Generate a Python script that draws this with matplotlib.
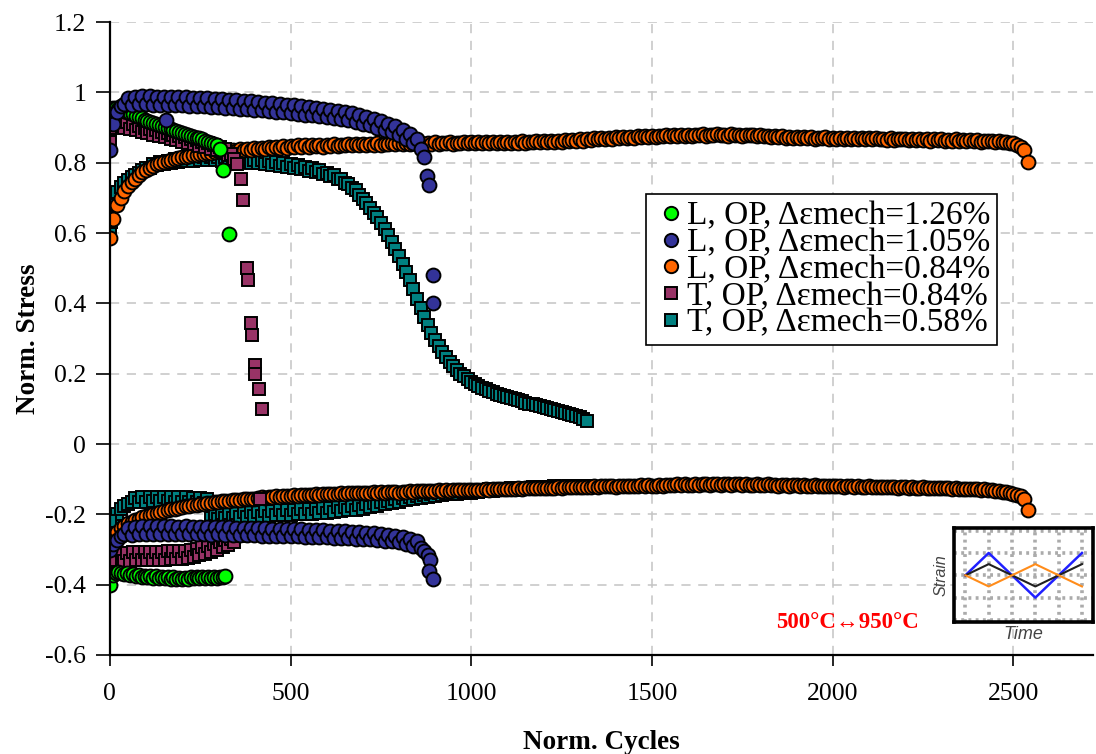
import numpy as np
import matplotlib
matplotlib.use("Agg")
import matplotlib.pyplot as plt
from matplotlib.lines import Line2D

plt.rcParams['font.family'] = ['Liberation Serif', 'DejaVu Serif']
plt.rcParams['axes.unicode_minus'] = False

# ---------------- data (normalised stress vs normalised cycles) ----------------
# regular recordings: first cycle, cycle step and the recorded values;
# isolated points are listed separately as (cycle, value) lists

# L, OP, 1.26 %
green_max_start, green_max_step = 0, 8
green_max = [0.95, 0.955, 0.956, 0.953, 0.95, 0.948, 0.945, 0.942, 0.938, 0.934,
             0.93, 0.926, 0.922, 0.918, 0.915, 0.912, 0.909, 0.906, 0.904, 0.901,
             0.898, 0.895, 0.892, 0.889, 0.886, 0.884, 0.881, 0.879, 0.876, 0.874,
             0.871, 0.869, 0.866, 0.863, 0.86, 0.857, 0.854, 0.85, 0.84]
green_max_extra_cyc = [312, 330]
green_max_extra = [0.778, 0.596]
green_min_start, green_min_step = 0, 8
green_min = [-0.40, -0.372, -0.366, -0.364, -0.368, -0.371, -0.368, -0.373, -0.37, -0.376,
             -0.372, -0.378, -0.374, -0.379, -0.375, -0.38, -0.376, -0.381, -0.377, -0.382,
             -0.378, -0.383, -0.379, -0.384, -0.38, -0.384, -0.38, -0.383, -0.379, -0.382,
             -0.378, -0.381, -0.377, -0.38, -0.378, -0.381, -0.378, -0.38, -0.377, -0.379,
             -0.376]

# L, OP, 1.05 %
blue_max_start, blue_max_step = 0, 10
blue_max = [0.835, 0.91, 0.945, 0.962, 0.968, 0.985, 0.965, 0.988, 0.966, 0.989,
            0.966, 0.989, 0.965, 0.988, 0.965, 0.988, 0.964, 0.987, 0.964, 0.987,
            0.963, 0.986, 0.962, 0.985, 0.961, 0.984, 0.96, 0.983, 0.959, 0.982,
            0.957, 0.98, 0.956, 0.979, 0.955, 0.978, 0.953, 0.976, 0.952, 0.975,
            0.95, 0.973, 0.949, 0.971, 0.947, 0.969, 0.945, 0.967, 0.943, 0.965,
            0.941, 0.963, 0.939, 0.961, 0.937, 0.958, 0.935, 0.956, 0.932, 0.953,
            0.929, 0.95, 0.926, 0.947, 0.923, 0.944, 0.92, 0.94, 0.916, 0.936,
            0.911, 0.931, 0.906, 0.925, 0.9, 0.918, 0.893, 0.911, 0.886, 0.903,
            0.878, 0.894, 0.868, 0.882, 0.855, 0.866, 0.838, 0.815]
blue_max_extra_cyc = [878, 883, 155, 895, 895]
blue_max_extra = [0.762, 0.737, 0.92, 0.48, 0.40]
blue_min_start, blue_min_step = 0, 10
blue_min = [-0.30, -0.285, -0.272, -0.262, -0.255, -0.24, -0.258, -0.235, -0.256, -0.234,
            -0.255, -0.233, -0.256, -0.234, -0.255, -0.233, -0.256, -0.234, -0.256, -0.235,
            -0.257, -0.234, -0.256, -0.235, -0.257, -0.235, -0.257, -0.236, -0.258, -0.236,
            -0.257, -0.237, -0.258, -0.237, -0.259, -0.238, -0.259, -0.238, -0.26, -0.239,
            -0.26, -0.239, -0.261, -0.24, -0.261, -0.241, -0.262, -0.241, -0.262, -0.242,
            -0.263, -0.242, -0.263, -0.243, -0.264, -0.244, -0.264, -0.244, -0.265, -0.245,
            -0.265, -0.246, -0.266, -0.247, -0.267, -0.248, -0.268, -0.249, -0.269, -0.25,
            -0.27, -0.252, -0.271, -0.254, -0.273, -0.256, -0.275, -0.258, -0.277, -0.261,
            -0.28, -0.265, -0.284, -0.27, -0.289, -0.277, -0.296, -0.305]
blue_min_extra_cyc = [880, 886, 884, 893]
blue_min_extra = [-0.315, -0.33, -0.36, -0.385]

# L, OP, 0.84 %
orange_max_start, orange_max_step = 0, 10
orange_max = [0.585, 0.64, 0.68, 0.70, 0.72, 0.733, 0.745, 0.755, 0.765, 0.773,
              0.78, 0.785, 0.79, 0.795, 0.80, 0.803, 0.805, 0.808, 0.81, 0.812,
              0.815, 0.817, 0.82, 0.821, 0.823, 0.825, 0.826, 0.827, 0.828, 0.83,
              0.832, 0.829, 0.834, 0.831, 0.836, 0.833, 0.838, 0.835, 0.839, 0.836,
              0.841, 0.838, 0.843, 0.839, 0.845, 0.841, 0.846, 0.842, 0.847, 0.843,
              0.848, 0.844, 0.849, 0.845, 0.85, 0.846, 0.849, 0.847, 0.85, 0.846,
              0.851, 0.847, 0.852, 0.848, 0.851, 0.849, 0.853, 0.849, 0.852, 0.85,
              0.854, 0.85, 0.853, 0.851, 0.855, 0.851, 0.854, 0.852, 0.856, 0.852,
              0.855, 0.853, 0.856, 0.852, 0.857, 0.853, 0.856, 0.854, 0.857, 0.853,
              0.858, 0.854, 0.857, 0.855, 0.858, 0.854, 0.857, 0.855, 0.859, 0.855,
              0.858, 0.856, 0.859, 0.855, 0.858, 0.856, 0.86, 0.856, 0.859, 0.857,
              0.86, 0.856, 0.859, 0.857, 0.861, 0.857, 0.86, 0.858, 0.861, 0.858,
              0.862, 0.858, 0.861, 0.859, 0.863, 0.86, 0.864, 0.861, 0.865, 0.862,
              0.866, 0.863, 0.868, 0.864, 0.869, 0.866, 0.87, 0.867, 0.871, 0.868,
              0.872, 0.869, 0.873, 0.87, 0.874, 0.871, 0.875, 0.872, 0.876, 0.873,
              0.877, 0.874, 0.877, 0.875, 0.878, 0.875, 0.879, 0.876, 0.879, 0.877,
              0.88, 0.877, 0.879, 0.878, 0.881, 0.877, 0.88, 0.878, 0.881, 0.878,
              0.88, 0.877, 0.881, 0.878, 0.88, 0.877, 0.879, 0.878, 0.88, 0.876,
              0.879, 0.875, 0.877, 0.873, 0.876, 0.872, 0.875, 0.871, 0.874, 0.87,
              0.873, 0.87, 0.874, 0.869, 0.872, 0.868, 0.871, 0.869, 0.872, 0.868,
              0.871, 0.867, 0.87, 0.868, 0.871, 0.867, 0.87, 0.866, 0.869, 0.867,
              0.87, 0.866, 0.869, 0.866, 0.868, 0.865, 0.869, 0.865, 0.868, 0.866,
              0.868, 0.864, 0.867, 0.865, 0.868, 0.864, 0.866, 0.863, 0.867, 0.864,
              0.866, 0.862, 0.865, 0.863, 0.866, 0.862, 0.864, 0.861, 0.864, 0.862,
              0.864, 0.86, 0.863, 0.861, 0.862, 0.859, 0.861, 0.858, 0.86, 0.856,
              0.855, 0.851, 0.845, 0.835, 0.802]
orange_min_start, orange_min_step = 0, 10
orange_min = [-0.275, -0.262, -0.25, -0.24, -0.232, -0.226, -0.221, -0.216, -0.212, -0.208,
              -0.205, -0.201, -0.198, -0.195, -0.193, -0.191, -0.189, -0.186, -0.184, -0.182,
              -0.18, -0.177, -0.176, -0.174, -0.173, -0.171, -0.17, -0.168, -0.167, -0.166,
              -0.165, -0.163, -0.162, -0.161, -0.16, -0.158, -0.158, -0.157, -0.157, -0.156,
              -0.155, -0.154, -0.152, -0.153, -0.15, -0.151, -0.149, -0.15, -0.147, -0.148,
              -0.147, -0.146, -0.148, -0.145, -0.146, -0.144, -0.145, -0.143, -0.144, -0.142,
              -0.142, -0.143, -0.141, -0.142, -0.14, -0.141, -0.139, -0.14, -0.138, -0.139,
              -0.14, -0.138, -0.139, -0.137, -0.138, -0.136, -0.138, -0.137, -0.136, -0.137,
              -0.138, -0.136, -0.137, -0.135, -0.136, -0.134, -0.135, -0.133, -0.134, -0.133,
              -0.134, -0.132, -0.133, -0.131, -0.133, -0.132, -0.131, -0.132, -0.13, -0.131,
              -0.131, -0.13, -0.132, -0.13, -0.129, -0.13, -0.128, -0.129, -0.128, -0.127,
              -0.128, -0.127, -0.128, -0.126, -0.127, -0.125, -0.126, -0.125, -0.126, -0.124,
              -0.126, -0.125, -0.124, -0.125, -0.123, -0.124, -0.122, -0.123, -0.122, -0.121,
              -0.123, -0.122, -0.121, -0.122, -0.12, -0.121, -0.12, -0.119, -0.12, -0.119,
              -0.121, -0.12, -0.119, -0.12, -0.118, -0.119, -0.118, -0.117, -0.118, -0.117,
              -0.119, -0.118, -0.117, -0.118, -0.116, -0.117, -0.116, -0.115, -0.116, -0.115,
              -0.117, -0.116, -0.115, -0.116, -0.114, -0.115, -0.116, -0.114, -0.115, -0.116,
              -0.115, -0.114, -0.116, -0.115, -0.114, -0.116, -0.115, -0.117, -0.116, -0.115,
              -0.117, -0.116, -0.115, -0.117, -0.116, -0.118, -0.117, -0.116, -0.118, -0.117,
              -0.116, -0.118, -0.117, -0.119, -0.118, -0.117, -0.119, -0.118, -0.12, -0.119,
              -0.118, -0.12, -0.119, -0.121, -0.12, -0.119, -0.121, -0.12, -0.122, -0.121,
              -0.12, -0.122, -0.121, -0.123, -0.122, -0.121, -0.123, -0.122, -0.124, -0.123,
              -0.122, -0.124, -0.123, -0.125, -0.124, -0.123, -0.125, -0.124, -0.126, -0.125,
              -0.124, -0.126, -0.125, -0.127, -0.126, -0.127, -0.128, -0.127, -0.129, -0.128,
              -0.129, -0.13, -0.129, -0.131, -0.132, -0.133, -0.134, -0.136, -0.137, -0.139,
              -0.141, -0.144, -0.148, -0.155, -0.187]

# T, OP, 0.84 %
purple_max_start, purple_max_step = 0, 8
purple_max = [0.88, 0.915, 0.925, 0.905, 0.92, 0.90, 0.915, 0.895, 0.91, 0.892,
              0.905, 0.888, 0.90, 0.884, 0.896, 0.88, 0.892, 0.876, 0.888, 0.872,
              0.884, 0.868, 0.88, 0.864, 0.876, 0.86, 0.872, 0.856, 0.868, 0.852,
              0.864, 0.848, 0.86, 0.844, 0.855, 0.84, 0.85, 0.835, 0.845, 0.83,
              0.838, 0.822, 0.825, 0.81, 0.795]
purple_max_extra_cyc = [0, 0, 0, 362, 368, 380, 381, 391, 392, 402, 403, 413, 421]
purple_max_extra = [0.86, 0.90, 0.93, 0.755, 0.695, 0.50, 0.466, 0.344, 0.31, 0.224, 0.20, 0.157, 0.10]
purple_min_start, purple_min_step = 0, 8
purple_min = [-0.365, -0.33, -0.312, -0.335, -0.31, -0.333, -0.309, -0.332, -0.308, -0.331,
              -0.308, -0.331, -0.307, -0.33, -0.307, -0.33, -0.306, -0.329, -0.306, -0.329,
              -0.305, -0.328, -0.305, -0.327, -0.304, -0.326, -0.303, -0.324, -0.301, -0.321,
              -0.298, -0.317, -0.294, -0.312, -0.289, -0.306, -0.284, -0.3, -0.279, -0.294,
              -0.274, -0.288, -0.27, -0.28]
purple_min_extra_cyc = [0, 0, 362, 416]
purple_min_extra = [-0.33, -0.30, -0.262, -0.155]

# T, OP, 0.58 %
teal_max_start, teal_max_step = 0, 10
teal_max = [0.61, 0.70, 0.718, 0.73, 0.742, 0.75, 0.76, 0.766, 0.772, 0.778,
            0.786, 0.785, 0.795, 0.792, 0.802, 0.797, 0.806, 0.80, 0.81, 0.803,
            0.813, 0.805, 0.815, 0.806, 0.816, 0.807, 0.817, 0.807, 0.817, 0.807,
            0.816, 0.806, 0.815, 0.805, 0.814, 0.804, 0.813, 0.802, 0.811, 0.80,
            0.809, 0.798, 0.807, 0.796, 0.805, 0.794, 0.802, 0.791, 0.799, 0.788,
            0.796, 0.785, 0.792, 0.781, 0.788, 0.777, 0.784, 0.773, 0.779, 0.768,
            0.772, 0.762, 0.764, 0.754, 0.754, 0.743, 0.74, 0.728, 0.722, 0.708,
            0.698, 0.684, 0.672, 0.658, 0.645, 0.628, 0.612, 0.595, 0.575, 0.555,
            0.535, 0.513, 0.49, 0.465, 0.44, 0.413, 0.387, 0.362, 0.338, 0.316,
            0.296, 0.278, 0.262, 0.247, 0.233, 0.222, 0.21, 0.20, 0.192, 0.184,
            0.177, 0.17, 0.165, 0.16, 0.155, 0.151, 0.147, 0.143, 0.14, 0.136,
            0.133, 0.13, 0.127, 0.124, 0.121, 0.118, 0.115, 0.113, 0.11, 0.108,
            0.105, 0.103, 0.10, 0.097, 0.094, 0.092, 0.089, 0.086, 0.083, 0.08,
            0.076, 0.071, 0.066]
teal_max_extra_cyc = [0, 3, 6]
teal_max_extra = [0.60, 0.63, 0.68]
teal_min_start, teal_min_step = 0, 10
teal_min = [-0.24, -0.215, -0.198, -0.185, -0.176, -0.17, -0.165, -0.153, -0.165, -0.152,
            -0.164, -0.151, -0.163, -0.151, -0.163, -0.151, -0.163, -0.151, -0.164, -0.152,
            -0.164, -0.152, -0.165, -0.153, -0.166, -0.154, -0.167, -0.156, -0.21, -0.198,
            -0.212, -0.197, -0.21, -0.196, -0.209, -0.195, -0.208, -0.194, -0.207, -0.193,
            -0.206, -0.192, -0.205, -0.191, -0.204, -0.19, -0.203, -0.189, -0.202, -0.188,
            -0.201, -0.187, -0.20, -0.186, -0.199, -0.185, -0.198, -0.184, -0.197, -0.183,
            -0.195, -0.182, -0.193, -0.18, -0.191, -0.178, -0.189, -0.176, -0.187, -0.174,
            -0.184, -0.171, -0.18, -0.168, -0.176, -0.164, -0.172, -0.161, -0.168, -0.157,
            -0.164, -0.154, -0.16, -0.151, -0.157, -0.148, -0.153, -0.145, -0.15, -0.143,
            -0.147, -0.14, -0.145, -0.138, -0.143, -0.136, -0.141, -0.135, -0.139, -0.133,
            -0.138, -0.132, -0.136, -0.131, -0.135, -0.129, -0.133, -0.128, -0.132, -0.127,
            -0.131, -0.126, -0.13, -0.125, -0.129, -0.124, -0.128, -0.123, -0.127, -0.122,
            -0.126, -0.121, -0.125, -0.12, -0.125, -0.12, -0.124, -0.119, -0.124, -0.119,
            -0.123, -0.118, -0.12]
teal_min_extra_cyc = [0, 0]
teal_min_extra = [-0.22, -0.26]

labels = ["L, OP, \u0394\u03b5mech=1.26%", "L, OP, \u0394\u03b5mech=1.05%",
          "L, OP, \u0394\u03b5mech=0.84%", "T, OP, \u0394\u03b5mech=0.84%",
          "T, OP, \u0394\u03b5mech=0.58%"]
x_ticks = [0, 500, 1000, 1500, 2000, 2500]
y_ticks = [-0.6, -0.4, -0.2, 0, 0.2, 0.4, 0.6, 0.8, 1.0, 1.2]
y_tick_labels = ["-0.6", "-0.4", "-0.2", "0", "0.2", "0.4", "0.6", "0.8", "1", "1.2"]


def cycles(start, step, values):
    return start + step * np.arange(len(values))


def series(start_max, step_max, vmax, start_min, step_min, vmin, extra_c=(), extra_v=()):
    c = np.concatenate([cycles(start_max, step_max, vmax), cycles(start_min, step_min, vmin),
                        np.asarray(extra_c, float)])
    v = np.concatenate([vmax, vmin, np.asarray(extra_v, float)])
    return c, v


g_c, g_v = series(green_max_start, green_max_step, green_max, green_min_start, green_min_step,
                  green_min, green_max_extra_cyc, green_max_extra)
b_c, b_v = series(blue_max_start, blue_max_step, blue_max, blue_min_start, blue_min_step,
                  blue_min, blue_max_extra_cyc + blue_min_extra_cyc, blue_max_extra + blue_min_extra)
o_c, o_v = series(orange_max_start, orange_max_step, orange_max, orange_min_start,
                  orange_min_step, orange_min)
p_c, p_v = series(purple_max_start, purple_max_step, purple_max, purple_min_start,
                  purple_min_step, purple_min, purple_max_extra_cyc + purple_min_extra_cyc,
                  purple_max_extra + purple_min_extra)
t_c, t_v = series(teal_max_start, teal_max_step, teal_max, teal_min_start, teal_min_step,
                  teal_min, teal_max_extra_cyc + teal_min_extra_cyc, teal_max_extra + teal_min_extra)

colors = {"green": "#00ff00", "blue": "#333399", "orange": "#ff6600",
          "purple": "#993366", "teal": "#008080"}

# ---------------- figure ----------------
fig = plt.figure(figsize=(10.96, 7.54), dpi=100)
ax = fig.add_axes([0.1002, 0.1313, 0.897, 0.8395])

circ = dict(ls="none", marker="o", ms=10.0, mec="black", mew=1.4)
sq = dict(ls="none", marker="s", ms=9.2, mec="black", mew=1.4)

ax.plot(t_c, t_v, mfc=colors["teal"], zorder=3, **sq)
ax.plot(o_c, o_v, mfc=colors["orange"], zorder=4, **circ)
ax.plot(p_c, p_v, mfc=colors["purple"], zorder=5, **sq)
ax.plot(g_c, g_v, mfc=colors["green"], zorder=6, **circ)
ax.plot(b_c, b_v, mfc=colors["blue"], zorder=7, **circ)

ax.set_xlim(0, 2720)
ax.set_ylim(-0.6, 1.2)
ax.set_xticks(x_ticks)
ax.set_xticklabels([str(t) for t in x_ticks])
ax.set_yticks(y_ticks)
ax.set_yticklabels(y_tick_labels)
ax.tick_params(axis="both", labelsize=18.5, colors="black", width=1.2)
ax.tick_params(axis="y", direction="out", length=10, pad=7)
ax.tick_params(axis="x", direction="out", length=8, pad=12)

for side in ("top", "right"):
    ax.spines[side].set_visible(False)
for side in ("left", "bottom"):
    ax.spines[side].set_linewidth(1.6)
    ax.spines[side].set_zorder(8)

ax.grid(True, color="#c4c4c4", linestyle=(0, (6, 5)), linewidth=1.1, zorder=0)
ax.set_axisbelow(True)

ax.set_xlabel("Norm. Cycles", fontsize=19.5, fontweight="bold", labelpad=18)
ax.set_ylabel("Norm. Stress", fontsize=19.5, fontweight="bold", labelpad=3)

legend_circ = dict(circ, ms=9.6)
legend_sq = dict(sq, ms=8.6)
handles = [
    Line2D([], [], mfc=colors["green"], **legend_circ),
    Line2D([], [], mfc=colors["blue"], **legend_circ),
    Line2D([], [], mfc=colors["orange"], **legend_circ),
    Line2D([], [], mfc=colors["purple"], **legend_sq),
    Line2D([], [], mfc=colors["teal"], **legend_sq),
]
leg = ax.legend(handles, labels, loc="upper left", bbox_to_anchor=(0.545, 0.728),
                borderaxespad=0, fontsize=24, frameon=True, fancybox=False,
                edgecolor="black", framealpha=1, borderpad=0.2, labelspacing=-0.11,
                handlelength=1.15, handletextpad=-0.1, numpoints=1)
leg.get_frame().set_linewidth(1.2)
leg.set_zorder(10)

ax.text(0.75, 0.052, "500\u00b0C\u2194950\u00b0C", transform=ax.transAxes, ha="center",
        va="center", color="#ff0000", fontsize=16.5, fontweight="bold",
        family=["Liberation Serif", "DejaVu Serif"], zorder=10)

# ---------------- small strain-time sketch ----------------
ins = fig.add_axes([0.8704, 0.1751, 0.1268, 0.1247])
ins.set_xlim(-0.49, 5.47)
ins.set_ylim(-2.09, 2.12)
for gx in range(6):
    ins.plot([gx, gx], [-2.09, 2.12], color="#ababab", lw=2.6, ls=(0, (0.8, 1.2)), zorder=1)
for gy in (-2, -1, 0, 1, 2):
    ins.plot([-0.49, 5.47], [gy, gy], color="#ababab", lw=2.6, ls=(0, (0.8, 1.2)), zorder=1)
t_knots = [0, 1, 3, 5]
ins.plot(t_knots, [0, 1, -1, 1], color="#2020ff", lw=1.8, zorder=3)
ins.plot(t_knots, [0, 0.5, -0.5, 0.5], color="#202020", lw=1.5, zorder=3)
ins.plot(t_knots, [0, -0.5, 0.5, -0.5], color="#ff8c1a", lw=1.5, zorder=3)
ins.set_xticks([])
ins.set_yticks([])
for s in ins.spines.values():
    s.set_linewidth(2.6)
ins.set_ylabel("Strain", fontsize=11.5, style="italic", color="#444444",
               family=["Liberation Sans", "DejaVu Sans"], labelpad=4)
ins.set_xlabel("Time", fontsize=13, style="italic", color="#444444",
               family=["Liberation Sans", "DejaVu Sans"], labelpad=3)

fig.savefig("out.png", dpi=100)
